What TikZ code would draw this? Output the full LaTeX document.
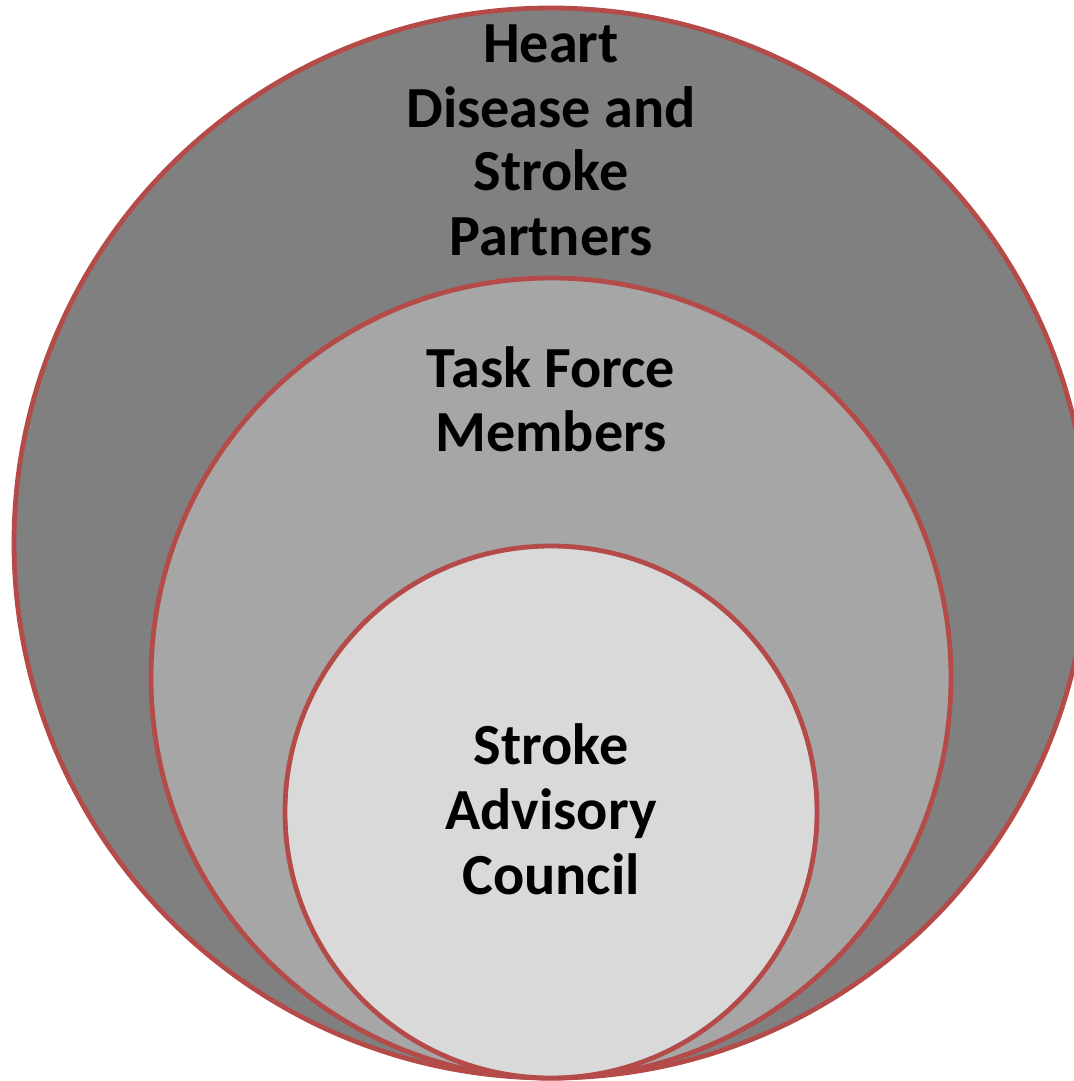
\documentclass[tikz,border=0pt]{standalone}
\usepackage{fontspec}
\setmainfont{Carlito}
\definecolor{ringred}{RGB}{180,75,72}
\definecolor{outerfill}{RGB}{128,128,128}
\definecolor{midfill}{RGB}{166,166,166}
\definecolor{innerfill}{RGB}{217,217,217}
\begin{document}
\begin{tikzpicture}[x=0.5pt,y=-0.5pt,
  ring/.style={draw=ringred,line width=2.4pt},
  lbl/.style={anchor=base,inner sep=0pt,font=\bfseries\fontsize{29.1pt}{33pt}\selectfont,text=black}]
\useasboundingbox (0,0) rectangle (1074,1081);
\clip (0,0) rectangle (1074,1081);
\fill[white] (0,0) rectangle (1074,1081);
\path[ring,fill=outerfill] (551,543) ellipse [x radius=268.5pt,y radius=267.5pt];
\path[ring,fill=midfill] (551,678) circle [radius=200pt];
\path[ring,fill=innerfill] (551,812) circle [radius=133pt];
\node[lbl] (o1) at (551,63) {Heart};
\node[lbl] (o2) at (551,127) {Disease and};
\node[lbl] (o3) at (551,191) {Stroke};
\node[lbl] (o4) at (551,255) {Partners};
\node[lbl] (m1) at (551,387) {Task Force};
\node[lbl] (m2) at (551,451) {Members};
\node[lbl] (i1) at (551,764) {Stroke};
\node[lbl] (i2) at (551,829) {Advisory};
\node[lbl] (i3) at (551,894) {Council};
\end{tikzpicture}
\end{document}
